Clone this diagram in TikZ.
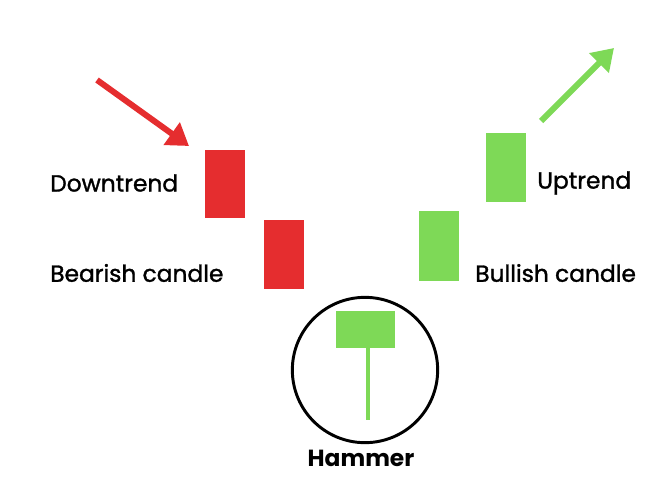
\documentclass[tikz,border=0pt]{standalone}
\usepackage{fontspec}
\setmainfont{Poppins}
\newfontfamily\labelfont[FakeBold=1.3]{Poppins}
\usepackage{xcolor}
\usetikzlibrary{arrows.meta,positioning}
\definecolor{bearred}{HTML}{E52D2F}
\definecolor{bullgreen}{HTML}{7ED957}
\tikzset{
  candle/.style={minimum width=30pt, inner sep=0pt, outer sep=0pt},
  redcandle/.style={candle, fill=bearred},
  greencandle/.style={candle, fill=bullgreen},
  trendlabel/.style={font=\labelfont\fontsize{17.5}{20}\selectfont, inner sep=0pt},
  trendarrow/.style={line width=4.5pt, -{Triangle[length=16pt,width=20pt]}}
}
\begin{document}
\begin{tikzpicture}[x=0.75pt, y=-0.75pt]
  \useasboundingbox (0,0) rectangle (667,497);
  % bearish side
  \node[redcandle, minimum height=51pt] (red1) at (225,184) {};
  \node[redcandle, minimum height=52pt] (red2) at (284,254.5) {};
  \coordinate (downstart) at (97,80);
  \coordinate (downend) at (189,146);
  \draw[trendarrow, bearred] (downstart) -- (downend);
  \node[trendlabel, anchor=west] (down) at (50,183) {Downtrend};
  \node[trendlabel, anchor=west] (bear) at (50,273) {Bearish candle};
  % hammer
  \node[draw=black, line width=2.2pt, circle, minimum size=109pt] (ring) at (365,370) {};
  \node[greencandle, minimum width=44pt, minimum height=28pt] (hbody) at (365.5,329.5) {};
  \coordinate (wick) at (368,420);
  \draw[bullgreen, line width=2.5pt] (hbody.south -| wick) -- (wick);
  \node[trendlabel, font=\bfseries\fontsize{17.5}{20}\selectfont] (hammer) at (361,458) {Hammer};
  % bullish side
  \node[greencandle, minimum height=52pt] (green1) at (438.5,246) {};
  \node[greencandle, minimum height=52pt] (green2) at (506,167.5) {};
  \coordinate (upstart) at (541,121);
  \coordinate (upend) at (614,48);
  \draw[trendarrow, bullgreen] (upstart) -- (upend);
  \node[trendlabel, anchor=west] (up) at (537,183) {Uptrend};
  \node[trendlabel, anchor=west] (bull) at (475,273) {Bullish candle};
\end{tikzpicture}
\end{document}
